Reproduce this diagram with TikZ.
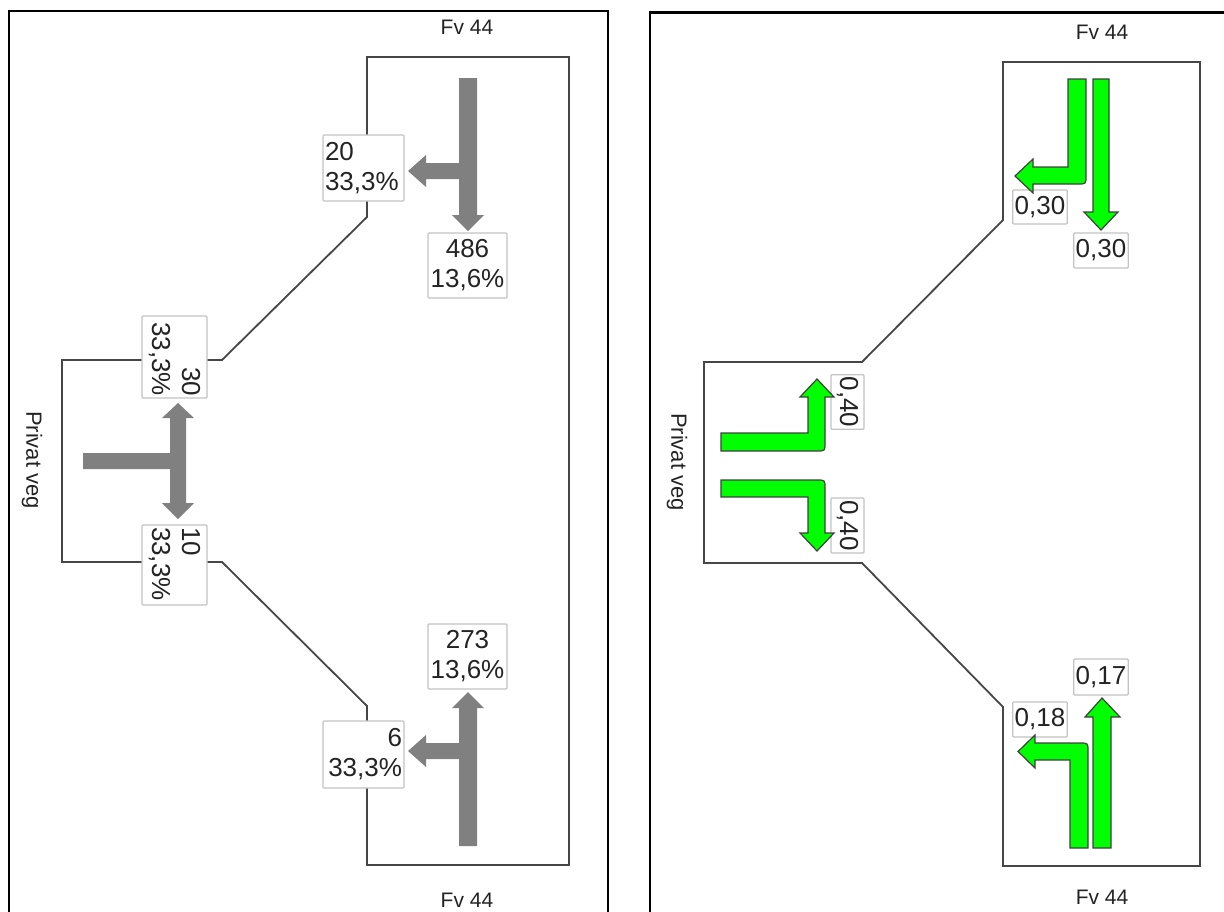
\documentclass[tikz,border=0pt]{standalone}
\usepackage{fontspec}
\setmainfont{Liberation Sans}
\definecolor{grayarrow}{RGB}{128,128,128}
\definecolor{roadc}{RGB}{70,70,70}
\definecolor{lblborder}{RGB}{195,195,195}
\definecolor{lanegreen}{RGB}{0,255,0}
\definecolor{txt}{RGB}{35,35,35}
\tikzset{
  panel/.style={draw=black, line width=2.5pt},
  roadline/.style={draw=roadc, line width=1.8pt, line join=miter},
  flowarrow/.style={fill=grayarrow},
  lanearrow/.style={fill=lanegreen, draw=black!75, line width=1.2pt, line join=miter},
  lbl/.style={draw=lblborder, fill=white, line width=1.2pt, inner xsep=2pt, inner ysep=0pt,
              text=txt, font=\fontsize{26}{30}\selectfont, rounded corners=1pt},
  roadname/.style={font=\fontsize{21}{24}\selectfont, text=txt},
  sidename/.style={font=\fontsize{22}{26}\selectfont, text=txt, rotate=-90}
}
\begin{document}
\begin{tikzpicture}[x=1pt, y=-1pt]
\useasboundingbox (0,0) rectangle (1224,911);
\begin{scope}
\clip (0,0) rectangle (1224,911);
% panels
\draw[panel] (9,940) -- (9,11) -- (608,11) -- (608,940);
\draw[panel] (650,940) -- (650,12.5) -- (1240,12.5);

% ---------------- left panel ----------------
\draw[roadline] (367,57) -- (569,57) -- (569,865) -- (367,865) -- (367,706) -- (222,562)
  -- (62,562) -- (62,360) -- (222,360) -- (367,217) -- cycle;

\node[roadname] (ltop) at (467,27) {Fv 44};
\node[roadname] (lbot) at (467,900) {Fv 44};
\node[sidename] (lside) at (32,460) {Privat veg};

% gray flow arrows
\fill[flowarrow] (459,78) -- (477,78) -- (477,215) -- (484,215) -- (468,231) -- (452,215)
  -- (459,215) -- (459,179) -- (426,179) -- (426,187) -- (408,171) -- (426,155)
  -- (426,163) -- (459,163) -- cycle;
\fill[flowarrow] (459,846) -- (477,846) -- (477,708) -- (484,708) -- (468,692) -- (452,708)
  -- (459,708) -- (459,743) -- (426,743) -- (426,735) -- (408,751) -- (426,767)
  -- (426,759) -- (459,759) -- cycle;
\fill[flowarrow] (83,453) -- (170,453) -- (170,418) -- (162,418) -- (178,403) -- (194,418)
  -- (186,418) -- (186,503) -- (194,503) -- (178,519) -- (162,503) -- (170,503)
  -- (170,469) -- (83,469) -- cycle;

% labels
\node[lbl, text width=77pt, minimum height=66pt, align=left] (l20) at (363.5,168) {20\\33,3\%};
\node[lbl, text width=75pt, minimum height=65pt, align=center] (l486) at (467.5,265.5) {486\\13,6\%};
\node[lbl, text width=75pt, minimum height=65pt, align=center] (l273) at (467.5,656.5) {273\\13,6\%};
\node[lbl, text width=77pt, minimum height=67pt, align=right] (l6) at (363.5,754.5) {6\\33,3\%};
\node[lbl, rotate=-90, text width=78pt, minimum height=65pt, align=right] (l30) at (174.5,357) {30\\33,3\%};
\node[lbl, rotate=-90, text width=76pt, minimum height=65pt, align=left] (l10) at (174.5,565) {10\\33,3\%};

% ---------------- right panel ----------------
\draw[roadline] (1003,62) -- (1200,62) -- (1200,866) -- (1003,866) -- (1003,707) -- (862,563)
  -- (704,563) -- (704,362) -- (862,362) -- (1003,220) -- cycle;

\node[roadname] (rtop) at (1102,32) {Fv 44};
\node[roadname] (rbot) at (1102,897) {Fv 44};
\node[sidename] (rside) at (677,462) {Privat veg};

% labels
\node[lbl, minimum width=54pt, minimum height=34pt] (g30a) at (1040,207) {0,30};
\node[lbl, minimum width=54pt, minimum height=35pt] (g30b) at (1101,250.5) {0,30};
\node[lbl, minimum width=54pt, minimum height=36pt] (g17) at (1101,677) {0,17};
\node[lbl, minimum width=54pt, minimum height=35pt] (g18) at (1040,719.5) {0,18};
\node[lbl, rotate=-90, minimum width=54pt, minimum height=33pt] (g40a) at (847.5,402) {0,40};
\node[lbl, rotate=-90, minimum width=55pt, minimum height=33pt] (g40b) at (847.5,525.5) {0,40};

% green lane arrows
\filldraw[lanearrow] (1093,79) -- (1109,79) -- (1109,212) -- (1118,212) -- (1101,230)
  -- (1084,212) -- (1093,212) -- cycle;
\filldraw[lanearrow] (1068,79) -- (1086,79) -- (1086,176) .. controls (1086,184) .. (1078,184)
  -- (1033,184) -- (1033,193) -- (1015,176) -- (1033,159) -- (1033,167) -- (1068,167) -- cycle;
\filldraw[lanearrow] (1093,848) -- (1111,848) -- (1111,717) -- (1120,717) -- (1102,698)
  -- (1085,717) -- (1093,717) -- cycle;
\filldraw[lanearrow] (1070,848) -- (1088,848) -- (1088,751) .. controls (1088,743) .. (1080,743)
  -- (1035,743) -- (1035,735) -- (1018,751.5) -- (1035,768) -- (1035,760) -- (1070,760) -- cycle;
\filldraw[lanearrow] (721,433) -- (808,433) -- (808,397) -- (800,397) -- (817,379) -- (834,397)
  -- (825,397) -- (825,443) .. controls (825,451) .. (817,451) -- (721,451) -- cycle;
\filldraw[lanearrow] (721,480) -- (817,480) .. controls (825,480) .. (825,488) -- (825,533)
  -- (834,533) -- (817,551) -- (800,533) -- (808,533) -- (808,497) -- (721,497) -- cycle;
\end{scope}
\end{tikzpicture}
\end{document}
